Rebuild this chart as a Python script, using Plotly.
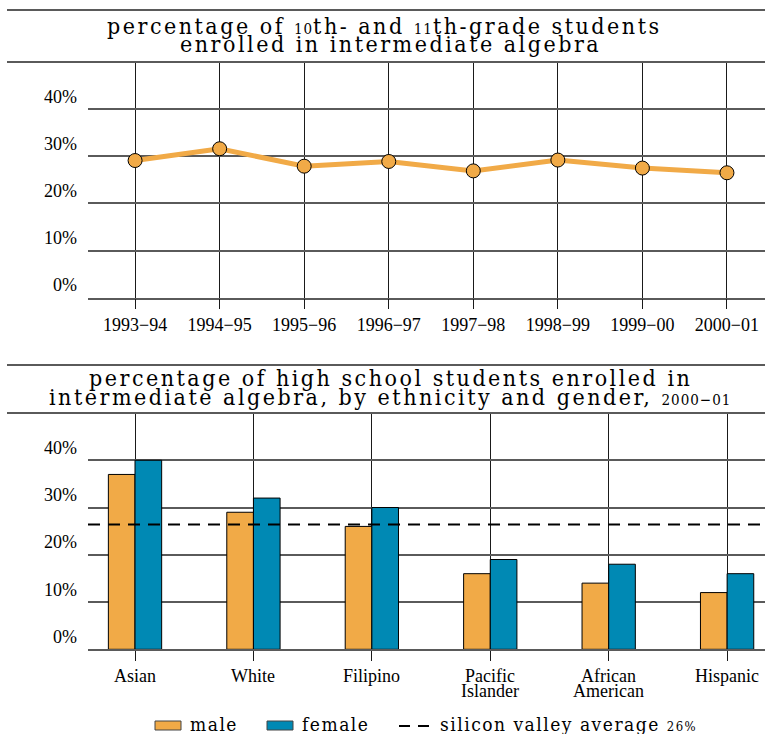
import plotly.graph_objects as go

# data
years = ['1993−94', '1994−95', '1995−96', '1996−97', '1997−98', '1998−99', '1999−00', '2000−01']
pct_enrolled = [29.1, 31.6, 27.9, 28.9, 26.9, 29.2, 27.5, 26.5]

groups = ['Asian', 'White', 'Filipino', 'Pacific<br>Islander', 'African<br>American', 'Hispanic']
male = [37, 29, 26, 16, 14, 12]
female = [40, 32, 30, 19, 18, 16]
sv_average = 26.4

y_ticks = [0, 10, 20, 30, 40]
y_labels = ['0%', '10%', '20%', '30%', '40%']

ORANGE = '#F1AA47'
BLUE = '#0089B4'
GRID = '#5a5a5a'
W, H = 765, 734
TITLE_FONT = 'DejaVu Serif Condensed, DejaVu Serif'
TICK_FONT = 'Liberation Serif'


def py(y):
    # screen pixel row -> paper y
    return 1 - y / H


def pxx(x):
    # screen pixel column -> paper x
    return x / W


def spaced(txt, px_):
    return "<span style='letter-spacing:%spx'>%s</span>" % (px_, txt)


fig = go.Figure()

fig.add_trace(go.Scatter(
    x=years, y=pct_enrolled, mode='lines+markers',
    line=dict(color=ORANGE, width=5),
    marker=dict(size=14, color=ORANGE, line=dict(color='black', width=1)),
    xaxis='x', yaxis='y', showlegend=False
))

fig.add_trace(go.Bar(
    x=groups, y=male, name='male', marker=dict(color=ORANGE, line=dict(color='black', width=1)),
    xaxis='x2', yaxis='y2', showlegend=False
))
fig.add_trace(go.Bar(
    x=groups, y=female, name='female', marker=dict(color=BLUE, line=dict(color='black', width=1)),
    xaxis='x2', yaxis='y2', showlegend=False
))

xcommon = dict(
    showgrid=True, gridcolor='#1a1a1a', gridwidth=1,
    ticks='outside', ticklen=10, tickcolor='#1a1a1a', tickwidth=1,
    showline=True, linecolor=GRID, linewidth=1.5,
    tickfont=dict(family=TICK_FONT, size=18, color='black'),
    zeroline=False, automargin=False, fixedrange=True,
)
ycommon = dict(
    range=[0, 50], tickvals=y_ticks, ticktext=y_labels,
    showgrid=True, gridcolor=GRID, gridwidth=1.5,
    ticks='', ticklabelposition='outside top', ticklabelstandoff=10,
    tickfont=dict(family=TICK_FONT, size=18, color='black'),
    zeroline=False, showline=False, automargin=False, fixedrange=True,
)

fig.update_layout(
    width=W, height=H,
    margin=dict(l=0, r=0, t=0, b=0),
    paper_bgcolor='white', plot_bgcolor='white',
    barmode='group', bargap=0.55, bargroupgap=0,
    xaxis=dict(domain=[pxx(88), 1], range=[-0.557, 7.45], anchor='y', **xcommon),
    yaxis=dict(domain=[py(297.7), py(62)], anchor='x', **ycommon),
    xaxis2=dict(domain=[pxx(88), 1], range=[-0.397, 5.32], anchor='y2',
                showticklabels=False, **xcommon),
    yaxis2=dict(domain=[py(649.3), py(413)], anchor='x2', **ycommon),
)

# group labels: tight two-line stacking like the reference
for g in groups:
    for i, part in enumerate(g.split('<br>')):
        fig.add_annotation(text=part, xref='x2', yref='paper', x=g, y=py(676 + 15 * i),
                           xanchor='center', yanchor='middle', showarrow=False,
                           font=dict(family=TICK_FONT, size=18, color='black'))

# rules framing the titles
for yy in [10, 62, 365, 413]:
    fig.add_shape(type='line', xref='paper', yref='paper', x0=pxx(7), x1=1, y0=py(yy), y1=py(yy),
                  line=dict(color=GRID, width=2))

# silicon valley average
fig.add_shape(type='line', xref='x2 domain', yref='y2', x0=0, x1=1, y0=sv_average, y1=sv_average,
              line=dict(color='black', width=2, dash='12px,8px'), layer='above')

small = "<span style='font-size:15px;letter-spacing:1px'>{}</span>"
titles = [
    ('percentage of ' + small.format('10') + 'th- and ' + small.format('11') + 'th-grade students', 26, 384),
    ('enrolled in intermediate algebra', 44, 390),
    ('percentage of high school students enrolled in', 378, 390),
    ('intermediate algebra, by ethnicity and gender, ' + small.format('2000−01'), 397, 390),
]
for txt, yy, xx in titles:
    fig.add_annotation(text=spaced(txt, 2.5), xref='paper', yref='paper', x=pxx(xx), y=py(yy),
                       xanchor='center', yanchor='middle', showarrow=False,
                       font=dict(family=TITLE_FONT, size=23, color='black'))

# legend
fig.add_shape(type='rect', xref='paper', yref='paper', x0=pxx(155), x1=pxx(181), y0=py(730), y1=py(721),
              fillcolor=ORANGE, line=dict(color='#444', width=1))
fig.add_shape(type='rect', xref='paper', yref='paper', x0=pxx(267), x1=pxx(293), y0=py(730), y1=py(721),
              fillcolor=BLUE, line=dict(color='#444', width=1))
fig.add_shape(type='line', xref='paper', yref='paper', x0=pxx(399), x1=pxx(431), y0=py(726), y1=py(726),
              line=dict(color='black', width=2, dash='11px,8px'))
legend_items = [
    ('male', 188),
    ('female', 300),
    ('silicon valley average ' + "<span style='font-size:13px'>%d%%</span>" % round(sv_average), 438),
]
for txt, xx in legend_items:
    fig.add_annotation(text=spaced(txt, 1.5), xref='paper', yref='paper', x=pxx(xx), y=py(724),
                       xanchor='left', yanchor='middle', showarrow=False,
                       font=dict(family=TITLE_FONT, size=19, color='black'))

# drop the default page margin so the figure fills the window
fig.write_html('out.html', config={'displayModeBar': False},
               post_script="document.body.style.margin='0';document.body.style.overflow='hidden';")
